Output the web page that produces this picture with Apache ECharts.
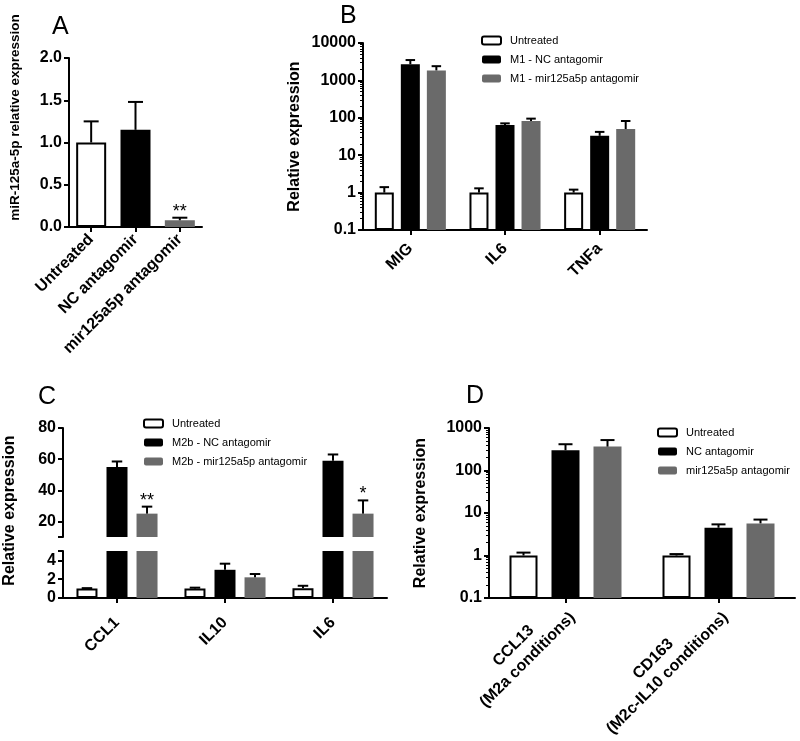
<!DOCTYPE html>
<html><head><meta charset="utf-8">
<script src="https://cdn.jsdelivr.net/npm/echarts@6/dist/echarts.min.js"></script>
<style>html,body{margin:0;padding:0;background:#fff}#c{width:800px;height:741px}</style>
</head><body><div id="c"></div>
<script>
// ---------------- data ----------------
// Panel A
const catsA = ['Untreated', 'NC antagomir', 'mir125a5p antagomir'];
const valsA = [1.0, 1.15, 0.08];
const errA = [0.25, 0.33, 0.03];
const sigA = ['', '', '**'];
const ticksA = [0, 0.5, 1.0, 1.5, 2.0];

// Panel B (log scale)
const catsB = ['MIG', 'IL6', 'TNFa'];
const namesB = ['Untreated', 'M1 - NC antagomir', 'M1 - mir125a5p antagomir'];
const untreatedB = [1, 1, 1];
const untreatedErrB = [0.4, 0.3, 0.2];
const ncB = [2700, 64, 33];
const ncErrB = [800, 7, 9];
const mirB = [1850, 82, 50];
const mirErrB = [550, 13, 32];

// Panel C (broken axis)
const catsC = ['CCL1', 'IL10', 'IL6'];
const namesC = ['Untreated', 'M2b - NC antagomir', 'M2b - mir125a5p antagomir'];
const untreatedC = [1.0, 1.0, 1.05];
const untreatedErrC = [0.05, 0.1, 0.25];
const ncC = [55, 3.0, 59];
const ncErrC = [3.5, 0.65, 4];
const mirC = [25, 2.2, 25];
const mirErrC = [4.5, 0.35, 8.5];
const sigMirC = ['**', '', '*'];
const ticksCTop = [20, 40, 60, 80];
const ticksCBottom = [0, 2, 4];
const cTopRange = [10, 80];
const cBottomRange = [0, 5];

// Panel D (log scale)
const genesD = ['CCL13', 'CD163'];
const conditionsD = ['(M2a conditions)', '(M2c-IL10 conditions)'];
const namesD = ['Untreated', 'NC antagomir', 'mir125a5p antagomir'];
const untreatedD = [1, 1];
const untreatedErrD = [0.17, 0.08];
const ncD = [300, 4.5];
const ncErrD = [115, 0.9];
const mirD = [365, 5.7];
const mirErrD = [155, 1.3];

// ---------------- styles ----------------
const FONT = '"Liberation Sans", Arial, sans-serif';
const GREY = '#6a6a6a';
const groupStyles = [
  {color: '#fff', borderColor: '#000', borderWidth: 2},
  {color: '#000'},
  {color: GREY}
];

// minor tick positions (in decades) for the log axes
function logMinor(lo, hi) {
  const out = [];
  for (let d = lo; d < hi; d++) for (let k = 2; k <= 9; k++) out.push(d + Math.log10(k));
  return out;
}

function catAxis(gridIndex, data, margin, extra) {
  return Object.assign({
    type: 'category', gridIndex, data, boundaryGap: true,
    axisLine: {show: true, onZero: false, lineStyle: {color: '#000', width: 2}},
    axisTick: {show: true, alignWithLabel: true, interval: 0, length: 5, lineStyle: {color: '#000', width: 2}},
    axisLabel: {rotate: 45, margin, interval: 0, color: '#000', fontFamily: FONT, fontWeight: 'bold', fontSize: 16},
    splitLine: {show: false}
  }, extra || {});
}
function valAxis(gridIndex, extra) {
  return Object.assign({
    gridIndex, position: 'left',
    axisLine: {show: true, lineStyle: {color: '#000', width: 2}},
    axisTick: {show: true, length: 5, lineStyle: {color: '#000', width: 2}},
    axisLabel: {margin: 7, color: '#000', fontFamily: FONT, fontWeight: 'bold', fontSize: 16},
    splitLine: {show: false},
    nameLocation: 'middle',
    nameTextStyle: {color: '#000', fontFamily: FONT, fontWeight: 'bold', fontSize: 16}
  }, extra || {});
}
function minorAxis(gridIndex, lo, hi) {
  return {
    type: 'value', gridIndex, position: 'left', min: lo, max: hi, show: true,
    axisLine: {show: true, onZero: false, lineStyle: {color: 'rgba(0,0,0,0)', width: 0}},
    axisLabel: {show: false}, splitLine: {show: false},
    axisTick: {show: true, length: 3, customValues: logMinor(lo, hi), lineStyle: {color: '#000', width: 1}}
  };
}
const logFmt = v => String(+(+v).toPrecision(6));

function errSeries(xi, yi, groups, barW, gapPct, sigs) {
  const n = groups.length;
  const gapPx = barW * gapPct;
  const items = [], itemSig = [];
  groups.forEach((g, slot) => {
    g[0].forEach((v, ci) => {
      items.push([ci, v, g[1][ci], slot]);
      itemSig.push(sigs && sigs[slot] ? sigs[slot][ci] : '');
    });
  });
  return {
    type: 'custom', xAxisIndex: xi, yAxisIndex: yi, clip: true, z: 5, silent: true,
    encode: {x: 0, y: 1},
    data: items,
    renderItem(params, api) {
      const cat = api.value(0), v = api.value(1), e = api.value(2), slot = api.value(3);
      const off = (slot - (n - 1) / 2) * (barW + gapPx);
      const p0 = api.coord([cat, v]);
      const p1 = api.coord([cat, v + e]);
      const x = p0[0] + off;
      const cap = barW / 4;
      const children = [
        {type: 'line', shape: {x1: x, y1: p0[1], x2: x, y2: p1[1]}, style: {stroke: '#000', lineWidth: 2}},
        {type: 'line', shape: {x1: x - cap, y1: p1[1], x2: x + cap, y2: p1[1]}, style: {stroke: '#000', lineWidth: 2}}
      ];
      const s = itemSig[params.dataIndex];
      if (s) children.push({type: 'text', x: x, y: p1[1] - 6,
        style: {text: s, fill: '#000', font: '18px ' + FONT, align: 'center', verticalAlign: 'middle'}});
      return {type: 'group', children};
    }
  };
}

function barSeries(name, xi, yi, data, style, barW, gapPct) {
  return {type: 'bar', name, xAxisIndex: xi, yAxisIndex: yi, data, itemStyle: style,
    barWidth: barW, barGap: (gapPct * 100) + '%', clip: true, z: 2};
}

const legendBase = {orient: 'vertical', itemWidth: 19, itemHeight: 8, itemGap: 8, icon: 'roundRect',
  selectedMode: false, padding: 0,
  textStyle: {fontSize: 11, fontFamily: FONT, color: '#000', padding: [0, 0, 0, 4]}};

const letterStyle = {fontSize: 25, fontWeight: 'normal', fontFamily: FONT, color: '#000'};

const series = [];
// A
series.push({type: 'bar', xAxisIndex: 0, yAxisIndex: 0, barWidth: 30, z: 2,
  data: valsA.map((v, i) => ({value: v, itemStyle: groupStyles[i]}))});
series.push(errSeries(0, 0, [[valsA, errA]], 30, 0, [sigA]));
// B
const dataB = [[untreatedB, untreatedErrB], [ncB, ncErrB], [mirB, mirErrB]];
namesB.forEach((nm, i) => series.push(barSeries(nm, 1, 1, dataB[i][0], groupStyles[i], 19, 0.37)));
series.push(errSeries(1, 1, dataB, 19, 0.37, null));
// C top & bottom
const dataC = [[untreatedC, untreatedErrC], [ncC, ncErrC], [mirC, mirErrC]];
namesC.forEach((nm, i) => series.push(barSeries(nm, 2, 4, dataC[i][0], groupStyles[i], 21, 0.43)));
namesC.forEach((nm, i) => series.push(barSeries(nm, 3, 5, dataC[i][0], groupStyles[i], 21, 0.43)));
series.push(errSeries(2, 4, dataC, 21, 0.43, [null, null, sigMirC]));
series.push(errSeries(3, 5, dataC, 21, 0.43, null));
// D
const dataD = [[untreatedD, untreatedErrD], [ncD, ncErrD], [mirD, mirErrD]];
namesD.forEach((nm, i) => series.push(barSeries(nm, 4, 6, dataD[i][0], groupStyles[i], 28, 0.5)));
series.push(errSeries(4, 6, dataD, 28, 0.5, null));

const option = {
  backgroundColor: '#fff',
  animation: false,
  textStyle: {fontFamily: FONT},
  title: [
    {text: 'A', left: 52, top: 15, padding: 0, textStyle: letterStyle},
    {text: 'B', left: 340, top: 4, padding: 0, textStyle: letterStyle},
    {text: 'C', left: 38, top: 385, padding: 0, textStyle: letterStyle},
    {text: 'D', left: 466, top: 384, padding: 0, textStyle: letterStyle}
  ],
  legend: [
    Object.assign({}, legendBase, {data: namesB, left: 481, top: 35}),
    Object.assign({}, legendBase, {data: namesC, left: 143, top: 418}),
    Object.assign({}, legendBase, {data: namesD, left: 657, top: 427})
  ],
  grid: [
    {left: 69, top: 58, width: 133, height: 169, outerBoundsMode: 'none'},
    {left: 363, top: 43, width: 284, height: 187, outerBoundsMode: 'none'},
    {left: 63, top: 428, width: 324, height: 109, outerBoundsMode: 'none'},
    {left: 63, top: 551, width: 324, height: 47, outerBoundsMode: 'none'},
    {left: 489, top: 428, width: 306, height: 170, outerBoundsMode: 'none'}
  ],
  xAxis: [
    catAxis(0, catsA, 10),
    catAxis(1, catsB, 16),
    catAxis(2, catsC, 10, {axisLine: {show: false}, axisTick: {show: false}, axisLabel: {show: false}}),
    catAxis(3, catsC, 22),
    catAxis(4, genesD, 10, {axisLabel: {
      rotate: 45, margin: 10, interval: 0,
      formatter: (v, i) => '{a|' + genesD[i] + '}\n{a|' + conditionsD[i] + '}',
      rich: {a: {align: 'center', color: '#000', fontFamily: FONT, fontWeight: 'bold', fontSize: 16, lineHeight: 20}}
    }})
  ],
  yAxis: [
    valAxis(0, {type: 'value', min: ticksA[0], max: ticksA[ticksA.length - 1], interval: 0.5,
      axisLabel: {margin: 7, color: '#000', fontFamily: FONT, fontWeight: 'bold', fontSize: 16, formatter: v => (+v).toFixed(1)},
      name: 'miR-125a-5p relative expression', nameGap: 47,
      nameTextStyle: {color: '#000', fontFamily: FONT, fontWeight: 'bold', fontSize: 13.5, padding: [0, 0, 0, 50]}}),
    valAxis(1, {type: 'log', logBase: 10, min: 0.1, max: 10000, startValue: 0.1, splitNumber: 5,
      axisLabel: {margin: 7, color: '#000', fontFamily: FONT, fontWeight: 'bold', fontSize: 16, formatter: logFmt},
      name: 'Relative expression', nameGap: 60}),
    minorAxis(1, -1, 4),
    minorAxis(4, -1, 3),
    valAxis(2, {type: 'value', min: cTopRange[0], max: cTopRange[1],
      axisTick: {show: true, length: 5, customValues: [cTopRange[0]].concat(ticksCTop), lineStyle: {color: '#000', width: 2}},
      axisLabel: {margin: 7, color: '#000', fontFamily: FONT, fontWeight: 'bold', fontSize: 16, customValues: ticksCTop},
      name: 'Relative expression', nameGap: 45,
      nameTextStyle: {color: '#000', fontFamily: FONT, fontWeight: 'bold', fontSize: 16, padding: [0, 56, 0, 0]}}),
    valAxis(3, {type: 'value', min: cBottomRange[0], max: cBottomRange[1],
      axisTick: {show: true, length: 5, customValues: ticksCBottom.concat([cBottomRange[1]]), lineStyle: {color: '#000', width: 2}},
      axisLabel: {margin: 7, color: '#000', fontFamily: FONT, fontWeight: 'bold', fontSize: 16, customValues: ticksCBottom}}),
    valAxis(4, {type: 'log', logBase: 10, min: 0.1, max: 1000, startValue: 0.1, splitNumber: 4,
      axisLabel: {margin: 7, color: '#000', fontFamily: FONT, fontWeight: 'bold', fontSize: 16, formatter: logFmt},
      name: 'Relative expression', nameGap: 60})
  ],
  series
};

const chart = echarts.init(document.getElementById('c'), null, {renderer: 'canvas'});
chart.setOption(option);
</script>
</body></html>
